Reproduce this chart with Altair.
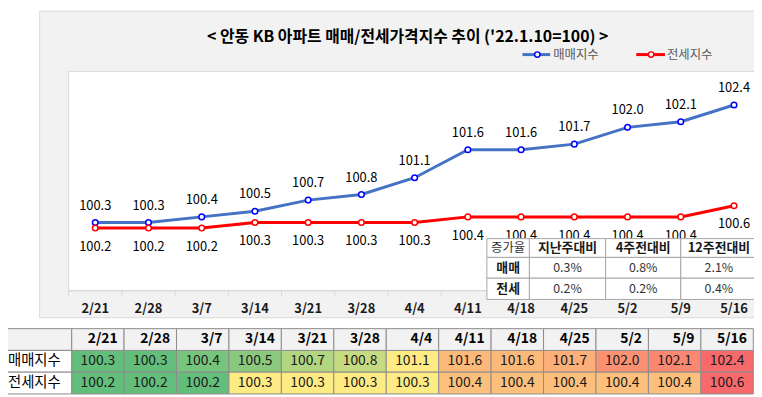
import altair as alt
import pandas as pd

# ---------------- data ----------------
dates = ["2/21", "2/28", "3/7", "3/14", "3/21", "3/28", "4/4",
         "4/11", "4/18", "4/25", "5/2", "5/9", "5/16"]
sale = [100.3, 100.3, 100.4, 100.5, 100.7, 100.8, 101.1,
        101.6, 101.6, 101.7, 102.0, 102.1, 102.4]
jeonse = [100.2, 100.2, 100.2, 100.3, 100.3, 100.3, 100.3,
          100.4, 100.4, 100.4, 100.4, 100.4, 100.6]
series_names = ["매매지수", "전세지수"]
title_text = "< 안동 KB 아파트 매매/전세가격지수 추이 ('22.1.10=100) >"
rate_headers = ["증가율", "지난주대비", "4주전대비", "12주전대비"]
rate_rows = ["매매", "전세"]
sale_rates = ["0.3%", "0.8%", "2.1%"]
jeonse_rates = ["0.2%", "0.2%", "0.4%"]

# ---------------- layout (chart coords) ----------------
W, H = 754, 389
FONT = "Noto Sans CJK KR"
one = pd.DataFrame({"k": [0]})
STEP = 53.8  # category width of the line chart

x_main = alt.Scale(type="point", domain=dates, range=[61.3 + STEP / 2, 61.3 + 12.5 * STEP], padding=0)
y_main = alt.Scale(domain=[99.08, 103.0], range=[283.7, 62], zero=False, nice=False)
line_colors = ["#4472c4", "#ff0000"]
marker_colors = ["#0000ff", "#ff0000"]

long = pd.DataFrame({
    "date": dates * 2,
    "series": [series_names[0]] * len(dates) + [series_names[1]] * len(dates),
    "value": sale + jeonse,
})
long["label"] = long["value"].map(lambda v: f"{v:.1f}")

X = alt.X("date:N", scale=x_main, axis=None)
Y = alt.Y("value:Q", scale=y_main, axis=None)

# background frame
frame = alt.Chart(one).mark_rect(fill="#f2f2f2", stroke="#d9d9d9", strokeWidth=1).encode(
    x=alt.value(32), x2=alt.value(760), y=alt.value(1), y2=alt.value(311))
plot_bg = alt.Chart(one).mark_rect(fill="white", stroke="#d9d9d9", strokeWidth=1).encode(
    x=alt.value(61.3), x2=alt.value(770), y=alt.value(62), y2=alt.value(283.7))

title = alt.Chart(one).mark_text(text=title_text, font=FONT, fontSize=16, fontWeight="bold",
                                 color="#000000", align="center", baseline="middle").encode(
    x=alt.value(404), y=alt.value(27))

# legend
leg_df = pd.DataFrame({"series": series_names, "x0": [520, 635], "xm": [535, 650],
                       "x1": [548, 664], "xt": [551, 666]})
leg_color = alt.Color("series:N", scale=alt.Scale(domain=series_names, range=line_colors), legend=None)
leg_line = alt.Chart(leg_df).mark_rule(strokeWidth=3).encode(
    x=alt.X("x0:Q", scale=None), x2="x1:Q", y=alt.value(45), color=leg_color)
leg_pt = alt.Chart(leg_df).mark_point(shape="circle", filled=True, fill="white", size=30,
                                      strokeWidth=1.5, opacity=1).encode(
    x=alt.X("xm:Q", scale=None), y=alt.value(45),
    stroke=alt.Stroke("series:N", scale=alt.Scale(domain=series_names, range=marker_colors), legend=None))
leg_txt = alt.Chart(leg_df).mark_text(font=FONT, fontSize=12.5, color="#595959", align="left",
                                      baseline="middle").encode(
    x=alt.X("xt:Q", scale=None), y=alt.value(45.5), text="series:N")

# x axis
axis_line = alt.Chart(one).mark_rule(color="#d9d9d9").encode(
    x=alt.value(61.3), x2=alt.value(770), y=alt.value(283.7))
ticks = alt.Chart(pd.DataFrame({"date": dates})).mark_rule(color="#d9d9d9", xOffset=-STEP / 2).encode(
    x=X, y=alt.value(283.7), y2=alt.value(289))
xlabels = alt.Chart(pd.DataFrame({"date": dates})).mark_text(
    font=FONT, fontSize=13, fontWeight="bold", color="#1a1a1a", baseline="middle").encode(
    x=X, y=alt.value(302), text="date:N")

# lines
lines = alt.Chart(long).mark_line(strokeWidth=3).encode(
    x=X, y=Y, color=alt.Color("series:N", scale=alt.Scale(domain=series_names, range=line_colors), legend=None))
points = alt.Chart(long).mark_point(shape="circle", filled=True, fill="white", size=32,
                                    strokeWidth=1.5, opacity=1).encode(
    x=X, y=Y,
    stroke=alt.Stroke("series:N", scale=alt.Scale(domain=series_names, range=marker_colors), legend=None))
lab_sale = alt.Chart(long).transform_filter(alt.datum.series == series_names[0]).mark_text(
    font=FONT, fontSize=13, color="#000000", dy=-17, baseline="middle").encode(x=X, y=Y, text="label:N")
lab_jeon = alt.Chart(long).transform_filter(alt.datum.series == series_names[1]).mark_text(
    font=FONT, fontSize=13, color="#000000", dy=19, baseline="middle").encode(x=X, y=Y, text="label:N")

# inset table (growth rates)
col_edges = [484, 527, 604, 680, 757]
row_edges = [231, 250, 271, 292.5]
cells = []
table_rows = [rate_headers, [rate_rows[0]] + sale_rates, [rate_rows[1]] + jeonse_rates]
for r, row in enumerate(table_rows):
    for c, txt in enumerate(row):
        bold = (r == 0 and c > 0) or (r > 0 and c == 0)
        cells.append({"x0": col_edges[c], "x1": col_edges[c + 1], "y0": row_edges[r], "y1": row_edges[r + 1],
                      "xc": (col_edges[c] + col_edges[c + 1]) / 2, "yc": (row_edges[r] + row_edges[r + 1]) / 2,
                      "text": txt, "bold": bold})
inset = pd.DataFrame(cells)
inset_rect = alt.Chart(inset).mark_rect(fill="white", stroke="#a6a6a6", strokeWidth=1).encode(
    x=alt.X("x0:Q", scale=None), x2="x1:Q", y=alt.Y("y0:Q", scale=None), y2="y1:Q")
inset_bold = alt.Chart(inset).transform_filter("datum.bold").mark_text(
    font=FONT, fontSize=13, fontWeight="bold", color="#1a1a1a", baseline="middle").encode(
    x=alt.X("xc:Q", scale=None), y=alt.Y("yc:Q", scale=None), text="text:N")
inset_norm = alt.Chart(inset).transform_filter("!datum.bold").mark_text(
    font=FONT, fontSize=12.5, color="#333333", baseline="middle").encode(
    x=alt.X("xc:Q", scale=None), y=alt.Y("yc:Q", scale=None), text="text:N")

# bottom data table with Excel-like 3-colour scale (min / median / max per row)
def excel_t(vals):
    s = pd.Series(vals)
    lo, mid, hi = s.min(), s.median(), s.max()
    out = []
    for v in vals:
        if v <= mid:
            out.append(0.0 if mid == lo else 0.5 * (v - lo) / (mid - lo))
        else:
            out.append(0.5 + 0.5 * (v - mid) / (hi - mid))
    return out

tab = pd.DataFrame({
    "tdate": dates * 2,
    "trow": [series_names[0]] * len(dates) + [series_names[1]] * len(dates),
    "tval": sale + jeonse,
    "t": excel_t(sale) + excel_t(jeonse),
})
tab["tlabel"] = tab["tval"].map(lambda v: f"{v:.1f}")
row_dom = ["hdr"] + series_names
x_tab = alt.Scale(domain=dates, range=[64.3, 753.3], paddingInner=0, paddingOuter=0)
y_tab = alt.Scale(domain=row_dom, range=[322, 388], paddingInner=0, paddingOuter=0)
TX = alt.X("tdate:N", scale=x_tab, axis=None)
TY = alt.Y("trow:N", scale=y_tab, axis=None)

heat = alt.Chart(tab).mark_rect(stroke="#8c8c8c", strokeWidth=1).encode(
    x=TX, y=TY,
    color=alt.Color("t:Q", scale=alt.Scale(domain=[0, 0.5, 1], range=["#63be7b", "#ffeb84", "#f8696b"],
                                           interpolate="rgb"), legend=None))
heat_txt = alt.Chart(tab).mark_text(font=FONT, fontSize=14, color="#1a1a1a", baseline="middle").encode(
    x=TX, y=TY, text="tlabel:N")

hdr_df = pd.DataFrame({"tdate": dates, "trow": ["hdr"] * len(dates)})
hdr_rect = alt.Chart(hdr_df).mark_rect(fill="#f2f2f2", stroke="#8c8c8c", strokeWidth=1).encode(x=TX, y=TY)
hdr_txt = alt.Chart(hdr_df).mark_text(font=FONT, fontSize=14, fontWeight="bold", color="#000000",
                                      align="right", baseline="middle", dx=20).encode(
    x=TX, y=TY, text="tdate:N")

lab_df = pd.DataFrame({"trow": row_dom, "name": [""] + series_names,
                       "fill": ["h", "w", "w"]})
lab_rect = alt.Chart(lab_df).mark_rect(stroke="#8c8c8c", strokeWidth=1).encode(
    x=alt.value(-1), x2=alt.value(64.3), y=TY,
    color=alt.Color("fill:N", scale=alt.Scale(domain=["h", "w"], range=["#f2f2f2", "#ffffff"]), legend=None))
lab_txt = alt.Chart(lab_df).mark_text(font=FONT, fontSize=14.5, color="#000000", align="left",
                                      baseline="middle").encode(
    x=alt.value(0), y=TY, text="name:N")

chart = alt.layer(
    frame, plot_bg, title, leg_line, leg_pt, leg_txt,
    axis_line, ticks, xlabels,
    lines, points, lab_sale, lab_jeon,
    inset_rect, inset_bold, inset_norm,
    heat, heat_txt, hdr_rect, hdr_txt, lab_rect, lab_txt,
).resolve_scale(
    x="independent", y="independent", color="independent", stroke="independent"
).properties(
    width=W, height=H, autosize=alt.AutoSizeParams(type="none"), padding=0, background="white"
).configure_view(stroke=None)

chart.save("out.html", embed_options={"renderer": "svg", "actions": False})
